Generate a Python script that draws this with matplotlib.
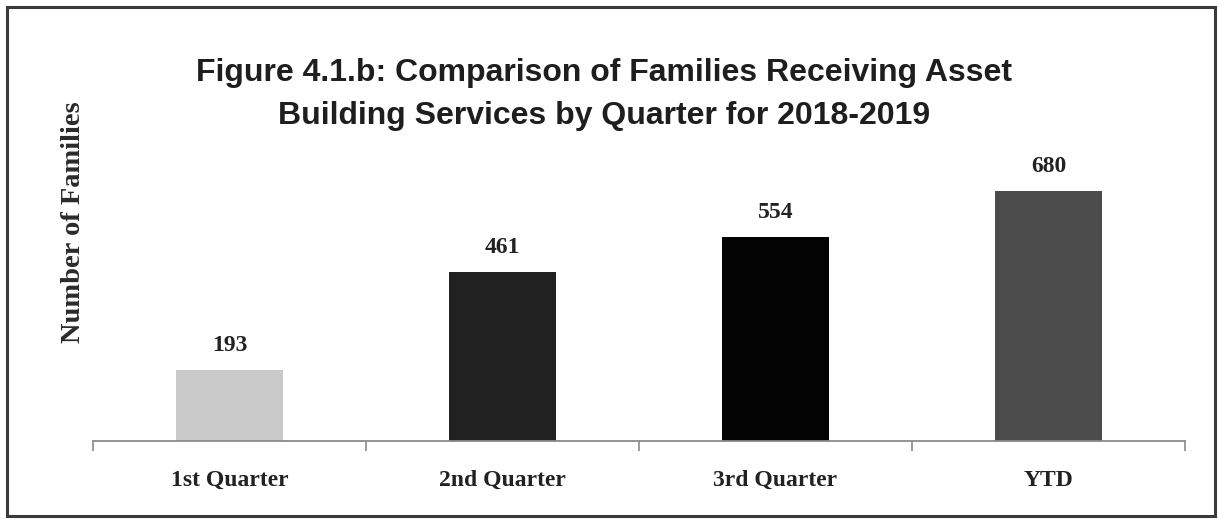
import matplotlib
matplotlib.use("Agg")
import matplotlib.pyplot as plt
from matplotlib.patches import Rectangle

categories = ["1st Quarter", "2nd Quarter", "3rd Quarter", "YTD"]
families = [193, 461, 554, 680]
bar_colors = ["#c9c9c9", "#212121", "#030303", "#4b4b4b"]

title = ("Figure 4.1.b: Comparison of Families Receiving Asset\n"
         "Building Services by Quarter for 2018-2019")
ylabel = "Number of Families"

W, H = 1219, 519
fig = plt.figure(figsize=(W / 100, H / 100), dpi=100)
fig.patch.set_facecolor("white")

# plot area in pixel terms: x 93..1185, baseline at y=441 from top
left, right, base, top = 93, 1185, 441, 147
ax = fig.add_axes([left / W, (H - base) / H, (right - left) / W, (base - top) / H])
ax.set_xlim(-0.5, len(categories) - 0.5)
ax.set_ylim(0, 800)

x = list(range(len(categories)))
bars = ax.bar(x, families, width=0.39, color=bar_colors, edgecolor="none", zorder=2)

serif = ["Liberation Serif", "DejaVu Serif"]
for b, v in zip(bars, families):
    ax.annotate(f"{v}", (b.get_x() + b.get_width() / 2, v),
                xytext=(0, 14), textcoords="offset pixels",
                ha="center", va="bottom", fontsize=17, fontweight="bold",
                family=serif, color="#222222")

for s in ["top", "right", "left"]:
    ax.spines[s].set_visible(False)
ax.spines["bottom"].set_color("#8a8a8a")
ax.spines["bottom"].set_linewidth(1.3)
ax.set_yticks([])

ax.set_xticks(x)
ax.set_xticklabels(categories, fontsize=17, fontweight="bold", family=serif, color="#222222")
ax.tick_params(axis="x", which="major", length=0, pad=21)
ax.set_xticks([i - 0.5 for i in range(len(categories) + 1)], minor=True)
ax.tick_params(axis="x", which="minor", length=7, width=1.2, color="#8a8a8a", direction="out")

fig.text(604 / W, 1 - 58 / H, title, ha="center", va="top", fontsize=23,
         fontweight="bold", family=["Liberation Sans", "DejaVu Sans"],
         color="#1e1e1e", linespacing=1.55)

fig.text(74 / W, (H - 222) / H, ylabel, rotation=90, ha="center", va="center",
         fontsize=20.5, fontweight="bold", family=serif, color="#2a2a2a")

# outer frame
fig.patches.append(Rectangle((7 / W, 3 / H), (W - 11) / W, (H - 10) / H,
                             transform=fig.transFigure, fill=False,
                             edgecolor="#3a3a3a", linewidth=2.2))

fig.savefig("out.png", dpi=100, facecolor="white")
